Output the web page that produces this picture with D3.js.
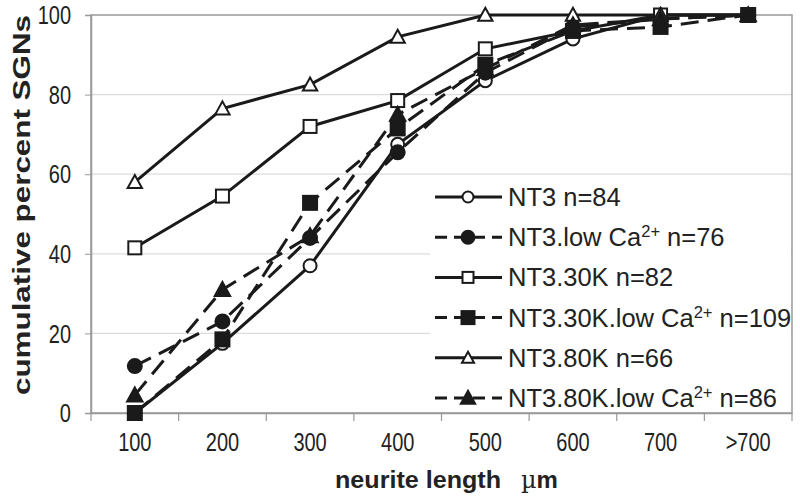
<!DOCTYPE html>
<html><head><meta charset="utf-8">
<script src="https://cdn.jsdelivr.net/npm/d3@7"></script>
<style>body{margin:0;background:#fff}text{font-family:"Liberation Sans",Arial,sans-serif}</style>
</head><body>
<svg id="c" width="800" height="503"></svg>
<script>
const categories = ["100","200","300","400","500","600","700",">700"];
const yTicks = [0,20,40,60,80,100];
const nt3          = [0, 17.5, 37, 67.5, 83.5, 94, 100, 100];
const nt3LowCa     = [11.8, 23, 44, 65.5, 85.5, 97, 99, 100];
const nt3_30K      = [41.5, 54.5, 72, 78.5, 91.5, 96, 100, 100];
const nt3_30KLowCa = [0, 18.5, 52.8, 71.5, 87.5, 96, 97, 100];
const nt3_80K      = [58, 76.5, 82.5, 94.5, 100, 100, 100, 100];
const nt3_80KLowCa = [4.5, 31, 44.5, 75, 86.5, 97.5, 99, 100];
const seriesNames = ["NT3 n=84","NT3.low Ca|2+| n=76","NT3.30K n=82","NT3.30K.low Ca|2+| n=109","NT3.80K n=66","NT3.80K.low Ca|2+| n=86"];

const series = [
  {name: seriesNames[0], values: nt3, marker: "circle", filled: false, dashed: false},
  {name: seriesNames[1], values: nt3LowCa, marker: "circle", filled: true, dashed: true},
  {name: seriesNames[2], values: nt3_30K, marker: "square", filled: false, dashed: false},
  {name: seriesNames[3], values: nt3_30KLowCa, marker: "square", filled: true, dashed: true},
  {name: seriesNames[4], values: nt3_80K, marker: "triangle", filled: false, dashed: false},
  {name: seriesNames[5], values: nt3_80KLowCa, marker: "triangle", filled: true, dashed: true}
];

const svg = d3.select("#c");
const L = 91, R = 792, T = 15, B = 413;
const x = d3.scaleBand().domain(categories).range([L, R]).padding(0);
const xc = c => x(c) + x.bandwidth()/2;
const y = d3.scaleLinear().domain([0,100]).range([B, T]);

// gridlines
svg.append("g").selectAll("line").data(yTicks.filter(d=>d>0 && d<100)).join("line")
  .attr("x1", L).attr("x2", R).attr("y1", d=>y(d)).attr("y2", d=>y(d))
  .attr("stroke", "#dcdcdc").attr("stroke-width", 1.2);

// plot border
svg.append("rect").attr("x", L).attr("y", T).attr("width", R-L).attr("height", B-T)
  .attr("fill","none").attr("stroke","#999").attr("stroke-width",1.5);

// axes
const yAxis = svg.append("g").attr("transform",`translate(${L},0)`)
  .call(d3.axisLeft(y).tickValues(yTicks).tickSize(6).tickPadding(14));
yAxis.select(".domain").attr("stroke","#999").attr("stroke-width",1.5);
yAxis.selectAll(".tick line").attr("stroke","#999");
yAxis.selectAll("text").attr("font-size",25).attr("fill","#222")
  .attr("font-family","'Liberation Sans',Arial,sans-serif")
  .attr("x",0).attr("dy","0.35em").attr("transform","translate(-20,0) scale(0.8,1)");

const xAxis = svg.append("g").attr("transform",`translate(0,${B})`)
  .call(d3.axisBottom(x).tickSize(0).tickPadding(20));
xAxis.select(".domain").attr("stroke","#999").attr("stroke-width",1.5);
xAxis.selectAll("text").attr("font-size",25).attr("fill","#222")
  .attr("font-family","'Liberation Sans',Arial,sans-serif")
  .attr("y",0).attr("dy","0.71em").attr("transform","translate(0,20) scale(0.8,1)");
// boundary ticks
svg.append("g").selectAll("line").data(categories.concat(["end"])).join("line")
  .attr("x1", (d,i)=> L + i*x.bandwidth()).attr("x2",(d,i)=> L + i*x.bandwidth())
  .attr("y1", B).attr("y2", B+8).attr("stroke","#999").attr("stroke-width",1.2);

// axis titles
svg.append("text").attr("transform","translate(30,205) rotate(-90)")
  .attr("text-anchor","middle").attr("font-weight","bold").attr("font-size",24).attr("fill","#222")
  .attr("textLength",380).attr("lengthAdjust","spacingAndGlyphs")
  .text("cumulative percent SGNs");
svg.append("text").attr("x",335).attr("y",488)
  .attr("font-weight","bold").attr("font-size",24).attr("fill","#222")
  .attr("textLength",166).attr("lengthAdjust","spacingAndGlyphs")
  .text("neurite length");
const mu = svg.append("text").attr("x",521).attr("y",488)
  .attr("font-size",24).attr("fill","#222");
mu.append("tspan").attr("font-family","'DejaVu Serif',serif").text("µ");
mu.append("tspan").attr("font-weight","bold").text("m");

// marker drawing
function drawMarker(g, type, filled, cx, cy, s) {
  let m;
  if (type === "circle") m = g.append("circle").attr("cx",cx).attr("cy",cy).attr("r",s*0.5);
  else if (type === "square") m = g.append("rect").attr("x",cx-s/2).attr("y",cy-s/2).attr("width",s).attr("height",s);
  else m = g.append("path").attr("d",`M${cx},${cy-s*0.55}L${cx+s*0.55},${cy+s*0.45}L${cx-s*0.55},${cy+s*0.45}Z`);
  m.attr("fill", filled ? "#1a1a1a" : "#fff").attr("stroke","#1a1a1a").attr("stroke-width",2);
}

const line = d3.line().x((d,i)=>xc(categories[i])).y(d=>y(d));
const gS = svg.append("g");
series.forEach(s => {
  gS.append("path").datum(s.values).attr("d", line).attr("fill","none")
    .attr("stroke","#1a1a1a").attr("stroke-width",3)
    .attr("stroke-dasharray", s.dashed ? "18,9" : null);
});
series.forEach(s => {
  s.values.forEach((v,i) => drawMarker(gS, s.marker, s.filled, xc(categories[i]), y(v), s.filled ? 14 : 13));
});

// legend
const lg = svg.append("g");
lg.append("rect").attr("x",430).attr("y",178).attr("width",R-430-1).attr("height",B-178-1).attr("fill","#fff");
series.forEach((s,i) => {
  const cy = 197 + i*40.2;
  lg.append("line").attr("x1",435).attr("x2",502).attr("y1",cy).attr("y2",cy)
    .attr("stroke","#1a1a1a").attr("stroke-width",3)
    .attr("stroke-dasharray", s.dashed ? "12,7" : null);
  drawMarker(lg, s.marker, s.filled, 468, cy, s.filled ? 13 : 11);
  const t = lg.append("text").attr("x",508).attr("y",cy+9).attr("font-size",25.5).attr("fill","#222");
  s.name.split("|").forEach((part,k) => {
    const ts = t.append("tspan").text(part);
    if (k===1) ts.attr("font-size",16.5).attr("dy",-9);
    if (k===2) ts.attr("dy",9);
  });
});
</script>
</body></html>
